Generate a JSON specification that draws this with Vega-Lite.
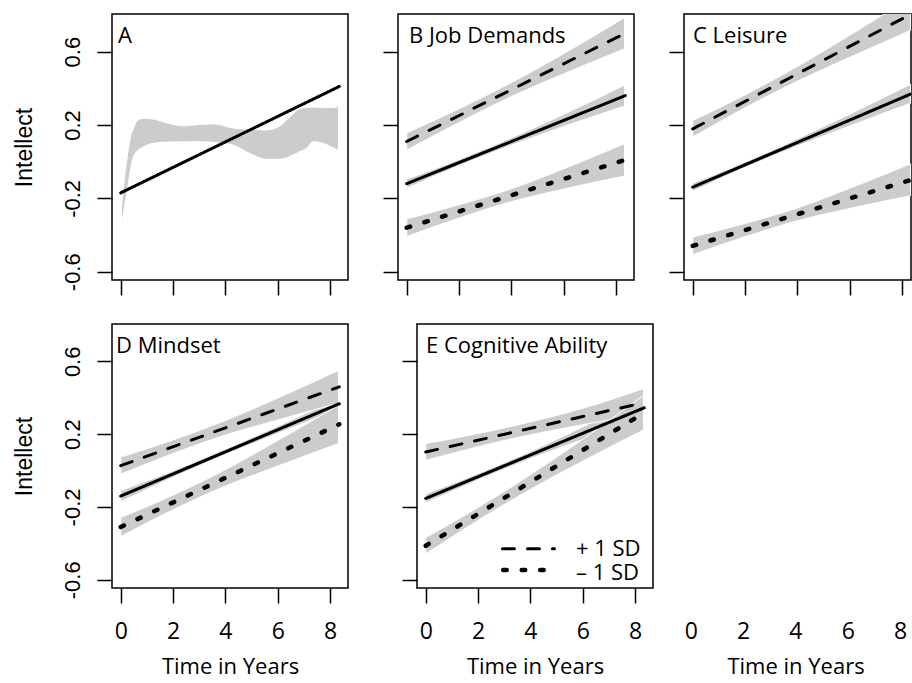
{
  "$schema": "https://vega.github.io/schema/vega-lite/v6.json",
  "background": "white",
  "padding": {"left": 12, "top": 13, "right": 0, "bottom": 0},
  "config": {
    "view": {"stroke": "black", "strokeWidth": 1.5},
    "axis": {"grid": false, "domain": false, "tickColor": "black", "tickWidth": 1.5, "labelColor": "black", "titleColor": "black", "labelFlush": false},
    "title": {"anchor": "start", "frame": "group", "baseline": "alphabetic", "font": "Open Sans", "fontSize": 22, "fontWeight": "normal", "color": "black"}
  },
  "datasets": {
    "bands": [
      {"panel":"A","grp":"m","t":0.03,"lo":-0.355,"hi":-0.25},
      {"panel":"A","grp":"m","t":0.15,"lo":-0.24,"hi":-0.08},
      {"panel":"A","grp":"m","t":0.25,"lo":-0.16,"hi":0.03},
      {"panel":"A","grp":"m","t":0.35,"lo":-0.06,"hi":0.12},
      {"panel":"A","grp":"m","t":0.48,"lo":0.025,"hi":0.18},
      {"panel":"A","grp":"m","t":0.61,"lo":0.055,"hi":0.22},
      {"panel":"A","grp":"m","t":0.86,"lo":0.08,"hi":0.236},
      {"panel":"A","grp":"m","t":1.24,"lo":0.1,"hi":0.232},
      {"panel":"A","grp":"m","t":1.8,"lo":0.107,"hi":0.21},
      {"panel":"A","grp":"m","t":2.4,"lo":0.108,"hi":0.195},
      {"panel":"A","grp":"m","t":3.0,"lo":0.109,"hi":0.203},
      {"panel":"A","grp":"m","t":3.6,"lo":0.104,"hi":0.206},
      {"panel":"A","grp":"m","t":4.3,"lo":0.09,"hi":0.183},
      {"panel":"A","grp":"m","t":5.06,"lo":0.036,"hi":0.176},
      {"panel":"A","grp":"m","t":5.57,"lo":0.013,"hi":0.173},
      {"panel":"A","grp":"m","t":6.08,"lo":0.013,"hi":0.195},
      {"panel":"A","grp":"m","t":6.5,"lo":0.031,"hi":0.25},
      {"panel":"A","grp":"m","t":6.85,"lo":0.055,"hi":0.29},
      {"panel":"A","grp":"m","t":7.1,"lo":0.073,"hi":0.296},
      {"panel":"A","grp":"m","t":7.35,"lo":0.109,"hi":0.298},
      {"panel":"A","grp":"m","t":7.74,"lo":0.1,"hi":0.295},
      {"panel":"A","grp":"m","t":8.25,"lo":0.067,"hi":0.297},
      {"panel":"A","grp":"m","t":8.32,"lo":0.064,"hi":0.318},

      {"panel":"B","grp":"m","t":0,"lo":-0.145,"hi":-0.095},
      {"panel":"B","grp":"m","t":2,"lo":-0.022,"hi":0.012},
      {"panel":"B","grp":"m","t":4,"lo":0.09,"hi":0.13},
      {"panel":"B","grp":"m","t":6,"lo":0.192,"hi":0.258},
      {"panel":"B","grp":"m","t":8.32,"lo":0.303,"hi":0.417},
      {"panel":"B","grp":"p","t":0,"lo":0.063,"hi":0.157},
      {"panel":"B","grp":"p","t":2,"lo":0.214,"hi":0.288},
      {"panel":"B","grp":"p","t":4,"lo":0.355,"hi":0.431},
      {"panel":"B","grp":"p","t":6,"lo":0.479,"hi":0.589},
      {"panel":"B","grp":"p","t":8.32,"lo":0.615,"hi":0.785},
      {"panel":"B","grp":"n","t":0,"lo":-0.408,"hi":-0.312},
      {"panel":"B","grp":"n","t":2,"lo":-0.307,"hi":-0.235},
      {"panel":"B","grp":"n","t":4,"lo":-0.218,"hi":-0.148},
      {"panel":"B","grp":"n","t":6,"lo":-0.149,"hi":-0.039},
      {"panel":"B","grp":"n","t":8.32,"lo":-0.078,"hi":0.098},

      {"panel":"C","grp":"m","t":0,"lo":-0.161,"hi":-0.117},
      {"panel":"C","grp":"m","t":2,"lo":-0.032,"hi":-0.002},
      {"panel":"C","grp":"m","t":4,"lo":0.085,"hi":0.125},
      {"panel":"C","grp":"m","t":6,"lo":0.195,"hi":0.259},
      {"panel":"C","grp":"m","t":8.32,"lo":0.318,"hi":0.422},
      {"panel":"C","grp":"p","t":0,"lo":0.134,"hi":0.224},
      {"panel":"C","grp":"p","t":2,"lo":0.294,"hi":0.364},
      {"panel":"C","grp":"p","t":4,"lo":0.439,"hi":0.519},
      {"panel":"C","grp":"p","t":6,"lo":0.569,"hi":0.689},
      {"panel":"C","grp":"p","t":8.32,"lo":0.715,"hi":0.895},
      {"panel":"C","grp":"n","t":0,"lo":-0.507,"hi":-0.411},
      {"panel":"C","grp":"n","t":2,"lo":-0.409,"hi":-0.337},
      {"panel":"C","grp":"n","t":4,"lo":-0.322,"hi":-0.252},
      {"panel":"C","grp":"n","t":6,"lo":-0.255,"hi":-0.145},
      {"panel":"C","grp":"n","t":8.32,"lo":-0.186,"hi":-0.012},

      {"panel":"D","grp":"m","t":0,"lo":-0.17,"hi":-0.11},
      {"panel":"D","grp":"m","t":2,"lo":-0.037,"hi":-0.001},
      {"panel":"D","grp":"m","t":4,"lo":0.088,"hi":0.118},
      {"panel":"D","grp":"m","t":6,"lo":0.204,"hi":0.244},
      {"panel":"D","grp":"m","t":8.32,"lo":0.337,"hi":0.397},
      {"panel":"D","grp":"p","t":0,"lo":-0.02,"hi":0.074},
      {"panel":"D","grp":"p","t":2,"lo":0.094,"hi":0.168},
      {"panel":"D","grp":"p","t":4,"lo":0.195,"hi":0.275},
      {"panel":"D","grp":"p","t":6,"lo":0.278,"hi":0.398},
      {"panel":"D","grp":"p","t":8.32,"lo":0.37,"hi":0.55},
      {"panel":"D","grp":"n","t":0,"lo":-0.362,"hi":-0.258},
      {"panel":"D","grp":"n","t":2,"lo":-0.215,"hi":-0.135},
      {"panel":"D","grp":"n","t":4,"lo":-0.085,"hi":0.005},
      {"panel":"D","grp":"n","t":6,"lo":0.025,"hi":0.165},
      {"panel":"D","grp":"n","t":8.32,"lo":0.149,"hi":0.359},

      {"panel":"E","grp":"m","t":0,"lo":-0.178,"hi":-0.128},
      {"panel":"E","grp":"m","t":2,"lo":-0.052,"hi":-0.016},
      {"panel":"E","grp":"m","t":4,"lo":0.065,"hi":0.105},
      {"panel":"E","grp":"m","t":6,"lo":0.17,"hi":0.24},
      {"panel":"E","grp":"m","t":8.32,"lo":0.28,"hi":0.41},
      {"panel":"E","grp":"p","t":0,"lo":0.056,"hi":0.148},
      {"panel":"E","grp":"p","t":2,"lo":0.131,"hi":0.203},
      {"panel":"E","grp":"p","t":4,"lo":0.197,"hi":0.267},
      {"panel":"E","grp":"p","t":6,"lo":0.252,"hi":0.342},
      {"panel":"E","grp":"p","t":8.32,"lo":0.31,"hi":0.45},
      {"panel":"E","grp":"n","t":0,"lo":-0.458,"hi":-0.368},
      {"panel":"E","grp":"n","t":2,"lo":-0.273,"hi":-0.203},
      {"panel":"E","grp":"n","t":4,"lo":-0.103,"hi":-0.023},
      {"panel":"E","grp":"n","t":6,"lo":0.052,"hi":0.172},
      {"panel":"E","grp":"n","t":8.32,"lo":0.223,"hi":0.413}
    ],
    "lines": [
      {"panel":"A","grp":"m","t":0,"y":-0.17},{"panel":"A","grp":"m","t":8.35,"y":0.41},
      {"panel":"B","grp":"m","t":0,"y":-0.12},{"panel":"B","grp":"m","t":8.35,"y":0.36},
      {"panel":"B","grp":"p","t":0,"y":0.11},{"panel":"B","grp":"p","t":8.35,"y":0.7},
      {"panel":"B","grp":"n","t":0,"y":-0.36},{"panel":"B","grp":"n","t":8.35,"y":0.01},
      {"panel":"C","grp":"m","t":0,"y":-0.139},{"panel":"C","grp":"m","t":8.35,"y":0.37},
      {"panel":"C","grp":"p","t":0,"y":0.179},{"panel":"C","grp":"p","t":8.35,"y":0.805},
      {"panel":"C","grp":"n","t":0,"y":-0.459},{"panel":"C","grp":"n","t":8.35,"y":-0.099},
      {"panel":"D","grp":"m","t":0,"y":-0.14},{"panel":"D","grp":"m","t":8.35,"y":0.367},
      {"panel":"D","grp":"p","t":0,"y":0.027},{"panel":"D","grp":"p","t":8.35,"y":0.46},
      {"panel":"D","grp":"n","t":0,"y":-0.31},{"panel":"D","grp":"n","t":8.35,"y":0.254},
      {"panel":"E","grp":"m","t":0,"y":-0.153},{"panel":"E","grp":"m","t":8.35,"y":0.345},
      {"panel":"E","grp":"p","t":0,"y":0.102},{"panel":"E","grp":"p","t":8.35,"y":0.373},
      {"panel":"E","grp":"n","t":0,"y":-0.413},{"panel":"E","grp":"n","t":8.35,"y":0.318}
    ],
    "legend_lines": [
      {"grp":"p","t":2.93,"y":-0.429},{"grp":"p","t":4.92,"y":-0.429},
      {"grp":"n","t":2.96,"y":-0.546},{"grp":"n","t":4.92,"y":-0.546}
    ],
    "legend_text": [
      {"label":"+ 1 SD","t":5.74,"y":-0.43},
      {"label":"– 1 SD","t":5.74,"y":-0.565}
    ]
  },
  "spacing": 26,
  "vconcat": [
    {
      "spacing": 50,
      "bounds": "flush",
      "hconcat": [
        {
          "width": 236, "height": 266,
          "title": {"text": "A", "offset": -34, "dx": 6},
          "layer": [
            {
              "data": {"name": "bands"}, "transform": [{"filter": "datum.panel === 'A'"}],
              "mark": {"type": "area", "fill": "#cccccc", "stroke": "white", "strokeWidth": 1, "interpolate": "monotone", "clip": true},
              "encoding": {
                "x": {"field": "t", "type": "quantitative", "title": null, "scale": {"domain": [-0.334, 8.684], "nice": false, "zero": false},
                      "axis": {"values": [0, 2, 4, 6, 8], "tickSize": 15, "labels": false}},
                "y": {"field": "lo", "type": "quantitative", "title": "Intellect", "scale": {"domain": [-0.645, 0.805], "nice": false, "zero": false},
                      "axis": {"values": [-0.6, -0.4, -0.2, 0, 0.2, 0.4, 0.6, 0.8], "tickSize": 15, "labelAngle": 270, "labelAlign": "center", "labelBaseline": "alphabetic", "labelPadding": 18, "labelFont": "Liberation Sans", "labelFontSize": 22, "labelOverlap": false,
                               "labelExpr": "round(datum.value*10) % 4 == 0 ? '' : (datum.value < 0 ? '-' + format(-datum.value, '.1f') : format(datum.value, '.1f'))",
                               "titleFont": "Liberation Sans", "titleFontSize": 23, "titleFontWeight": "normal", "titleBaseline": "alphabetic", "titlePadding": 30}},
                "y2": {"field": "hi"},
                "detail": {"field": "grp", "type": "nominal"}
              }
            },
            {
              "data": {"name": "lines"}, "transform": [{"filter": "datum.panel === 'A'"}],
              "mark": {"type": "line", "color": "black", "strokeCap": "round", "clip": true},
              "encoding": {
                "x": {"field": "t", "type": "quantitative", "title": null, "scale": {"domain": [-0.334, 8.684], "nice": false, "zero": false}},
                "y": {"field": "y", "type": "quantitative", "title": "Intellect", "scale": {"domain": [-0.645, 0.805], "nice": false, "zero": false}},
                "strokeDash": {"field": "grp", "type": "nominal", "scale": {"domain": ["m", "p", "n"], "range": [[1, 0], [12, 13], [3.5, 15]]}, "legend": null},
                "strokeWidth": {"condition": {"test": "datum.grp === 'n'", "value": 4.5}, "value": 3}
              }
            }
          ]
        },
        {
          "width": 236, "height": 266,
          "title": {"text": "B Job Demands", "offset": -34, "dx": 11},
          "layer": [
            {
              "data": {"name": "bands"}, "transform": [{"filter": "datum.panel === 'B'"}],
              "mark": {"type": "area", "fill": "#cccccc", "stroke": "white", "strokeWidth": 1, "interpolate": "monotone", "clip": true},
              "encoding": {
                "x": {"field": "t", "type": "quantitative", "title": null, "scale": {"domain": [-0.334, 8.684], "nice": false, "zero": false},
                      "axis": {"values": [0, 2, 4, 6, 8], "tickSize": 15, "labels": false}},
                "y": {"field": "lo", "type": "quantitative", "title": null, "scale": {"domain": [-0.645, 0.805], "nice": false, "zero": false},
                      "axis": {"values": [-0.6, -0.4, -0.2, 0, 0.2, 0.4, 0.6, 0.8], "tickSize": 15, "labels": false}},
                "y2": {"field": "hi"},
                "detail": {"field": "grp", "type": "nominal"}
              }
            },
            {
              "data": {"name": "lines"}, "transform": [{"filter": "datum.panel === 'B'"}],
              "mark": {"type": "line", "color": "black", "strokeCap": "round", "clip": true},
              "encoding": {
                "x": {"field": "t", "type": "quantitative", "title": null, "scale": {"domain": [-0.334, 8.684], "nice": false, "zero": false}},
                "y": {"field": "y", "type": "quantitative", "title": null, "scale": {"domain": [-0.645, 0.805], "nice": false, "zero": false}},
                "strokeDash": {"field": "grp", "type": "nominal", "scale": {"domain": ["m", "p", "n"], "range": [[1, 0], [12, 13], [3.5, 15]]}, "legend": null},
                "strokeWidth": {"condition": {"test": "datum.grp === 'n'", "value": 4.5}, "value": 3}
              }
            }
          ]
        },
        {
          "width": 227, "height": 266,
          "title": {"text": "C Leisure", "offset": -34, "dx": 9},
          "layer": [
            {
              "data": {"name": "bands"}, "transform": [{"filter": "datum.panel === 'C'"}],
              "mark": {"type": "area", "fill": "#cccccc", "stroke": "white", "strokeWidth": 1, "interpolate": "monotone", "clip": true},
              "encoding": {
                "x": {"field": "t", "type": "quantitative", "title": null, "scale": {"domain": [-0.334, 8.341], "nice": false, "zero": false},
                      "axis": {"values": [0, 2, 4, 6, 8], "tickSize": 15, "labels": false}},
                "y": {"field": "lo", "type": "quantitative", "title": null, "scale": {"domain": [-0.645, 0.805], "nice": false, "zero": false},
                      "axis": {"values": [-0.6, -0.4, -0.2, 0, 0.2, 0.4, 0.6, 0.8], "tickSize": 15, "labels": false}},
                "y2": {"field": "hi"},
                "detail": {"field": "grp", "type": "nominal"}
              }
            },
            {
              "data": {"name": "lines"}, "transform": [{"filter": "datum.panel === 'C'"}],
              "mark": {"type": "line", "color": "black", "strokeCap": "round", "clip": true},
              "encoding": {
                "x": {"field": "t", "type": "quantitative", "title": null, "scale": {"domain": [-0.334, 8.341], "nice": false, "zero": false}},
                "y": {"field": "y", "type": "quantitative", "title": null, "scale": {"domain": [-0.645, 0.805], "nice": false, "zero": false}},
                "strokeDash": {"field": "grp", "type": "nominal", "scale": {"domain": ["m", "p", "n"], "range": [[1, 0], [12, 13], [3.5, 15]]}, "legend": null},
                "strokeWidth": {"condition": {"test": "datum.grp === 'n'", "value": 4.5}, "value": 3}
              }
            }
          ]
        }
      ]
    },
    {
      "spacing": 28,
      "hconcat": [
        {
          "spacing": 51,
          "hconcat": [
            {
              "width": 236, "height": 264,
              "title": {"text": "D Mindset", "offset": -34, "dx": 4},
              "layer": [
                {
                  "data": {"name": "bands"}, "transform": [{"filter": "datum.panel === 'D'"}],
                  "mark": {"type": "area", "fill": "#cccccc", "stroke": "white", "strokeWidth": 1, "interpolate": "monotone", "clip": true},
                  "encoding": {
                    "x": {"field": "t", "type": "quantitative", "title": "Time in Years", "scale": {"domain": [-0.334, 8.684], "nice": false, "zero": false},
                          "axis": {"values": [0, 2, 4, 6, 8], "tickSize": 15, "labelFont": "Open Sans", "labelFontSize": 23, "labelPadding": 17, "titleFont": "Open Sans", "titleFontSize": 22, "titleFontWeight": "normal", "titlePadding": 13}},
                    "y": {"field": "lo", "type": "quantitative", "title": "Intellect", "scale": {"domain": [-0.645, 0.805], "nice": false, "zero": false},
                          "axis": {"values": [-0.6, -0.4, -0.2, 0, 0.2, 0.4, 0.6, 0.8], "tickSize": 15, "labelAngle": 270, "labelAlign": "center", "labelBaseline": "alphabetic", "labelPadding": 18, "labelFont": "Liberation Sans", "labelFontSize": 22, "labelOverlap": false,
                                   "labelExpr": "round(datum.value*10) % 4 == 0 ? '' : (datum.value < 0 ? '-' + format(-datum.value, '.1f') : format(datum.value, '.1f'))",
                                   "titleFont": "Liberation Sans", "titleFontSize": 23, "titleFontWeight": "normal", "titleBaseline": "alphabetic", "titlePadding": 30}},
                    "y2": {"field": "hi"},
                    "detail": {"field": "grp", "type": "nominal"}
                  }
                },
                {
                  "data": {"name": "lines"}, "transform": [{"filter": "datum.panel === 'D'"}],
                  "mark": {"type": "line", "color": "black", "strokeCap": "round", "clip": true},
                  "encoding": {
                    "x": {"field": "t", "type": "quantitative", "title": "Time in Years", "scale": {"domain": [-0.334, 8.684], "nice": false, "zero": false}},
                    "y": {"field": "y", "type": "quantitative", "title": "Intellect", "scale": {"domain": [-0.645, 0.805], "nice": false, "zero": false}},
                    "strokeDash": {"field": "grp", "type": "nominal", "scale": {"domain": ["m", "p", "n"], "range": [[1, 0], [12, 13], [3.5, 15]]}, "legend": null},
                    "strokeWidth": {"condition": {"test": "datum.grp === 'n'", "value": 4.5}, "value": 3}
                  }
                }
              ]
            },
            {
              "width": 236, "height": 264,
              "title": {"text": "E Cognitive Ability", "offset": -34, "dx": 9},
              "layer": [
                {
                  "data": {"name": "bands"}, "transform": [{"filter": "datum.panel === 'E'"}],
                  "mark": {"type": "area", "fill": "#cccccc", "stroke": "white", "strokeWidth": 1, "interpolate": "monotone", "clip": true},
                  "encoding": {
                    "x": {"field": "t", "type": "quantitative", "title": "Time in Years", "scale": {"domain": [-0.334, 8.684], "nice": false, "zero": false},
                          "axis": {"values": [0, 2, 4, 6, 8], "tickSize": 15, "labelFont": "Open Sans", "labelFontSize": 23, "labelPadding": 17, "titleFont": "Open Sans", "titleFontSize": 22, "titleFontWeight": "normal", "titlePadding": 13}},
                    "y": {"field": "lo", "type": "quantitative", "title": null, "scale": {"domain": [-0.645, 0.805], "nice": false, "zero": false},
                          "axis": {"values": [-0.6, -0.4, -0.2, 0, 0.2, 0.4, 0.6, 0.8], "tickSize": 15, "labels": false}},
                    "y2": {"field": "hi"},
                    "detail": {"field": "grp", "type": "nominal"}
                  }
                },
                {
                  "data": {"name": "lines"}, "transform": [{"filter": "datum.panel === 'E'"}],
                  "mark": {"type": "line", "color": "black", "strokeCap": "round", "clip": true},
                  "encoding": {
                    "x": {"field": "t", "type": "quantitative", "title": "Time in Years", "scale": {"domain": [-0.334, 8.684], "nice": false, "zero": false}},
                    "y": {"field": "y", "type": "quantitative", "title": null, "scale": {"domain": [-0.645, 0.805], "nice": false, "zero": false}},
                    "strokeDash": {"field": "grp", "type": "nominal", "scale": {"domain": ["m", "p", "n"], "range": [[1, 0], [12, 13], [3.5, 15]]}, "legend": null},
                    "strokeWidth": {"condition": {"test": "datum.grp === 'n'", "value": 4.5}, "value": 3}
                  }
                },
                {
                  "data": {"name": "legend_lines"},
                  "mark": {"type": "line", "color": "black", "strokeCap": "round"},
                  "encoding": {
                    "x": {"field": "t", "type": "quantitative", "title": "Time in Years", "scale": {"domain": [-0.334, 8.684], "nice": false, "zero": false}},
                    "y": {"field": "y", "type": "quantitative", "title": null, "scale": {"domain": [-0.645, 0.805], "nice": false, "zero": false}},
                    "strokeDash": {"field": "grp", "type": "nominal", "scale": {"domain": ["m", "p", "n"], "range": [[1, 0], [12, 13], [3.5, 15]]}, "legend": null},
                    "strokeWidth": {"condition": {"test": "datum.grp === 'n'", "value": 4.5}, "value": 3}
                  }
                },
                {
                  "data": {"name": "legend_text"},
                  "mark": {"type": "text", "align": "left", "baseline": "middle", "font": "Open Sans", "fontSize": 22, "color": "black"},
                  "encoding": {
                    "x": {"field": "t", "type": "quantitative", "title": "Time in Years", "scale": {"domain": [-0.334, 8.684], "nice": false, "zero": false}},
                    "y": {"field": "y", "type": "quantitative", "title": null, "scale": {"domain": [-0.645, 0.805], "nice": false, "zero": false}},
                    "text": {"field": "label", "type": "nominal"}
                  }
                }
              ]
            }
          ]
        },
        {
          "width": 227, "height": 264,
          "view": {"stroke": null},
          "data": {"values": [{"t": 0}]},
          "mark": {"type": "point", "opacity": 0},
          "encoding": {
            "x": {"field": "t", "type": "quantitative", "title": "Time in Years", "scale": {"domain": [-0.334, 8.341], "nice": false, "zero": false},
                  "axis": {"values": [0, 2, 4, 6, 8], "tickSize": 15, "tickOpacity": 0, "labelFont": "Open Sans", "labelFontSize": 23, "labelPadding": 17, "titleFont": "Open Sans", "titleFontSize": 22, "titleFontWeight": "normal", "titlePadding": 13}}
          }
        }
      ]
    }
  ]
}
